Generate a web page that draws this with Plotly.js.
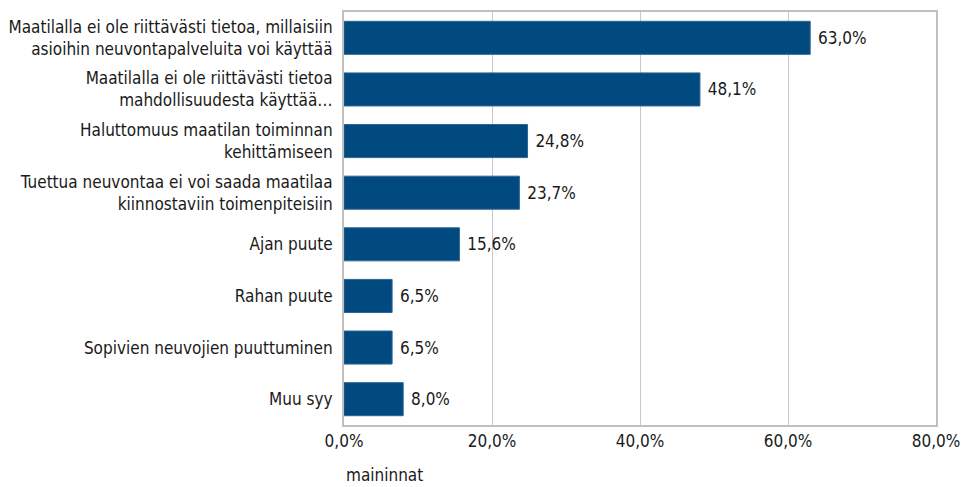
<!DOCTYPE html>
<html>
<head>
<meta charset="utf-8">
<script src="https://cdn.plot.ly/plotly-3.0.1.min.js"></script>
<style>html,body{margin:0;padding:0;background:#fff;}#chart{width:966px;height:487px;}</style>
</head>
<body>
<div id="chart"></div>
<script>
const categories = [
  "Maatilalla ei ole riittävästi tietoa, millaisiin<br>asioihin neuvontapalveluita voi käyttää",
  "Maatilalla ei ole riittävästi tietoa<br>mahdollisuudesta käyttää…",
  "Haluttomuus maatilan toiminnan<br>kehittämiseen",
  "Tuettua neuvontaa ei voi saada maatilaa<br>kiinnostaviin toimenpiteisiin",
  "Ajan puute",
  "Rahan puute",
  "Sopivien neuvojien puuttuminen",
  "Muu syy"
];
const values = [63.0, 48.1, 24.8, 23.7, 15.6, 6.5, 6.5, 8.0];
const tickVals = [0, 20, 40, 60, 80];
const tickText = ["0,0%", "20,0%", "40,0%", "60,0%", "80,0%"];
const axisTitle = "maininnat";

const FONT = "'DejaVu Sans Condensed', 'Liberation Sans Narrow', sans-serif";

const trace = {
  type: "bar",
  orientation: "h",
  y: categories,
  x: values,
  marker: {color: "#004a80", line: {color: "#2d6596", width: 1}},
  text: values.map(v => " " + v.toFixed(1).replace(".", ",") + "%"),
  textposition: "outside",
  cliponaxis: false,
  textfont: {family: FONT, size: 17, color: "#1a1a1a"},
  hoverinfo: "none"
};

const layout = {
  width: 966, height: 487,
  margin: {l: 344, r: 30, t: 12, b: 62},
  paper_bgcolor: "#fff", plot_bgcolor: "#fff",
  showlegend: false,
  bargap: 0.36,
  font: {family: FONT, size: 17, color: "#1a1a1a"},
  xaxis: {
    range: [0, 80],
    tickvals: tickVals, ticktext: tickText,
    showgrid: true, gridcolor: "#c8c8c8", gridwidth: 1,
    zeroline: false,
    showline: true, linecolor: "#c0c0c0", linewidth: 2, mirror: true,
    ticks: "", ticklen: 0,
    tickfont: {family: FONT, size: 17, color: "#1a1a1a"},
    automargin: false
  },
  yaxis: {
    autorange: "reversed",
    showgrid: false, zeroline: false,
    showline: true, linecolor: "#c0c0c0", linewidth: 2, mirror: true,
    ticks: "", ticklen: 0, ticklabelstandoff: 6,
    tickfont: {family: FONT, size: 17, color: "#1a1a1a"},
    automargin: false
  },
  annotations: [{
    text: axisTitle, xref: "paper", yref: "paper",
    x: 0, y: 0, xanchor: "left", yanchor: "top", yshift: -38,
    showarrow: false, font: {family: FONT, size: 17, color: "#1a1a1a"}
  }]
};

Plotly.newPlot("chart", [trace], layout, {displayModeBar: false, staticPlot: true});
</script>
</body>
</html>
